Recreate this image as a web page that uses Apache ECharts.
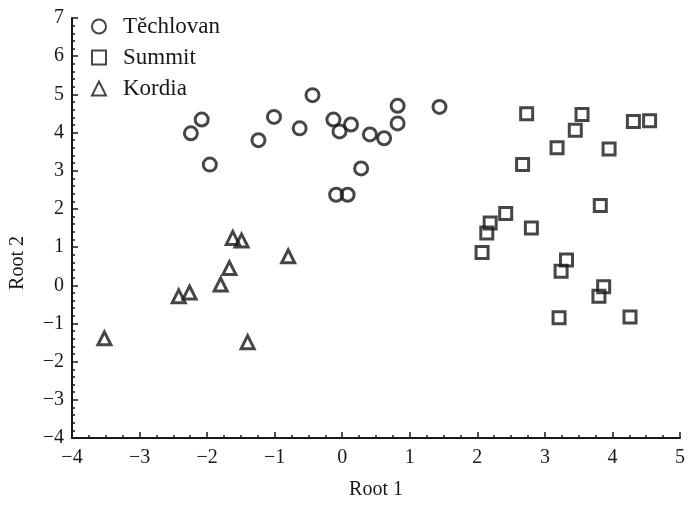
<!DOCTYPE html>
<html>
<head>
<meta charset="utf-8">
<script src="https://cdn.jsdelivr.net/npm/echarts@6/dist/echarts.min.js"></script>
<style>
  html, body { margin: 0; padding: 0; background: #fff; }
  #main { width: 688px; height: 505px; }
</style>
</head>
<body>
<div id="main"></div>
<script>
// data: [Root 1, Root 2]
var techlovan = [
  [-0.44, 4.98], [-2.08, 4.34], [-2.24, 3.98], [-1.24, 3.80], [-1.01, 4.41],
  [-0.63, 4.11], [-0.13, 4.34], [-0.04, 4.03], [0.13, 4.21], [0.41, 3.95],
  [0.62, 3.85], [0.82, 4.70], [0.82, 4.24], [1.44, 4.67], [-1.96, 3.16],
  [0.28, 3.06], [-0.09, 2.37], [0.08, 2.37]
];
var summit = [
  [2.73, 4.49], [3.55, 4.47], [3.45, 4.06], [4.31, 4.29], [4.55, 4.31],
  [3.18, 3.60], [3.95, 3.57], [2.67, 3.16], [3.82, 2.09], [2.42, 1.88],
  [2.19, 1.63], [2.14, 1.37], [2.80, 1.50], [2.07, 0.86], [3.32, 0.66],
  [3.24, 0.37], [3.87, -0.04], [3.80, -0.29], [3.21, -0.85], [4.26, -0.83]
];
var kordia = [
  [-1.62, 1.24], [-1.49, 1.17], [-0.80, 0.76], [-1.67, 0.45], [-1.80, 0.02],
  [-2.26, -0.19], [-2.42, -0.29], [-3.52, -1.39], [-1.40, -1.49]
];

var ink = '#1a1718';
var font = '"Liberation Serif", "DejaVu Serif", serif';

function minus(v) {
  return v < 0 ? '\u2212' + Math.abs(v) : String(v);
}

function pointStyle() {
  return { color: 'rgba(0,0,0,0)', borderColor: ink, borderWidth: 3 };
}

var myChart = echarts.init(document.getElementById('main'));
myChart.setOption({
  animation: false,
  backgroundColor: '#fff',
  grid: { left: 69, right: 5, top: 18, bottom: 57 },
  legend: {
    orient: 'vertical',
    left: 86,
    top: 10,
    itemGap: 8,
    itemWidth: 14,
    itemHeight: 14,
    textStyle: { fontFamily: font, fontSize: 23, color: ink, padding: [0, 0, 0, 12] },
    data: ['Těchlovan', 'Summit', 'Kordia']
  },
  xAxis: {
    type: 'value',
    min: -4, max: 5, interval: 1,
    name: 'Root 1',
    nameLocation: 'middle',
    nameGap: 42,
    nameTextStyle: { fontFamily: font, fontSize: 20, color: ink },
    axisLine: { onZero: false, lineStyle: { color: ink, width: 2 } },
    axisTick: { inside: true, length: 6, lineStyle: { color: ink, width: 1.5 } },
    minorTick: { show: true, splitNumber: 4, length: 3, lineStyle: { color: ink, width: 1.5 } },
    splitLine: { show: false },
    axisLabel: { fontFamily: font, fontSize: 20, color: ink, margin: 10, formatter: minus }
  },
  yAxis: {
    type: 'value',
    min: -4, max: 7, interval: 1,
    name: 'Root 2',
    nameLocation: 'middle',
    nameGap: 44,
    nameTextStyle: { fontFamily: font, fontSize: 20, color: ink, padding: [0, 70, 0, 0] },
    axisLine: { show: true, onZero: false, lineStyle: { color: ink, width: 2 } },
    axisTick: { show: true, inside: true, length: 6, lineStyle: { color: ink, width: 1.5 } },
    minorTick: { show: true, splitNumber: 5, length: 3, lineStyle: { color: ink, width: 1.5 } },
    splitLine: { show: false },
    axisLabel: { fontFamily: font, fontSize: 20, color: ink, margin: 8, formatter: minus }
  },
  series: [
    { name: 'Těchlovan', type: 'scatter', symbol: 'circle', symbolSize: 13, itemStyle: pointStyle(), data: techlovan },
    { name: 'Summit', type: 'scatter', symbol: 'rect', symbolSize: 12, itemStyle: pointStyle(), data: summit },
    { name: 'Kordia', type: 'scatter', symbol: 'triangle', symbolSize: 13, itemStyle: pointStyle(), data: kordia }
  ]
});
</script>
</body>
</html>
